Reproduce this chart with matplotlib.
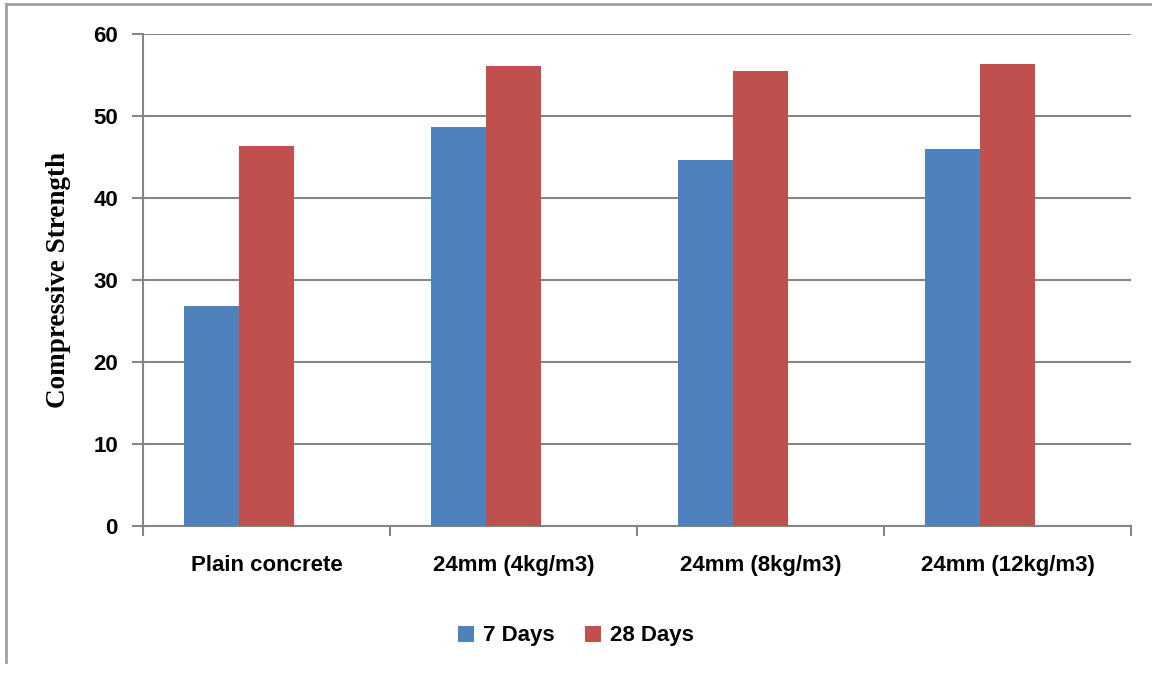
import matplotlib
matplotlib.use("Agg")
import matplotlib.pyplot as plt
from matplotlib.lines import Line2D
import numpy as np

categories = ["Plain concrete", "24mm (4kg/m3)", "24mm (8kg/m3)", "24mm (12kg/m3)"]
days7 = [26.8, 48.7, 44.6, 46.0]
days28 = [46.3, 56.1, 55.5, 56.3]
yticks = [0, 10, 20, 30, 40, 50, 60]

tick_font = ["Liberation Sans Narrow", "Liberation Sans", "DejaVu Sans"]
grey = "#868686"

fig = plt.figure(figsize=(11.52, 6.73), dpi=100)
ax = fig.add_axes([143 / 1152, 1 - 526 / 673, 988 / 1152, 492 / 673])

x = np.arange(len(categories))
w = 0.223
# red bar sits on the category centre, blue just left of it
ax.bar(x - w, days7, w, color="#4F81BD", label="7 Days", zorder=3)
ax.bar(x, days28, w, color="#C0504D", label="28 Days", zorder=3)

ax.set_xlim(-0.5, len(categories) - 0.5)
ax.set_ylim(0, 60)
ax.set_yticks(yticks)
ax.set_yticklabels([str(t) for t in yticks], fontfamily=tick_font,
                   fontweight="bold", fontsize=16)
ax.yaxis.grid(True, color=grey, linewidth=1.5, zorder=0)

# category boundary ticks on x axis, labels in between
ax.set_xticks(np.arange(len(categories) + 1) - 0.5)
ax.set_xticklabels([])
ax.set_xticks(x, minor=True)
ax.set_xticklabels(categories, minor=True, fontfamily=tick_font,
                   fontweight="bold", fontsize=16)
ax.tick_params(axis="x", which="minor", length=0, pad=21)
ax.tick_params(axis="x", which="major", length=7, width=1.5, color=grey, direction="out")
ax.tick_params(axis="y", length=8, width=1.5, color=grey, pad=10)

for s in ["top", "right"]:
    ax.spines[s].set_visible(False)
for s in ["left", "bottom"]:
    ax.spines[s].set_color(grey)
    ax.spines[s].set_linewidth(1.5)

ax.set_ylabel("Compressive Strength", fontfamily=["Liberation Serif", "DejaVu Serif"],
              fontweight="bold", fontsize=19.5, labelpad=16)

leg = fig.legend(loc="center", bbox_to_anchor=(0.5, 1 - 636 / 673), ncol=2,
                 frameon=False, handlelength=0.7, handleheight=0.7,
                 handletextpad=0.4, columnspacing=1.4,
                 prop={"family": tick_font, "weight": "bold", "size": 16})

# outer chart border (top and left visible)
fig.add_artist(Line2D([6 / 1152, 1], [1 - 4 / 673, 1 - 4 / 673], color="#A0A0A0", linewidth=2,
                      transform=fig.transFigure))
fig.add_artist(Line2D([6 / 1152, 6 / 1152], [1 - 4 / 673, 1 - 662 / 673], color="#A0A0A0",
                      linewidth=2, transform=fig.transFigure))

fig.savefig("out.png", dpi=100)
